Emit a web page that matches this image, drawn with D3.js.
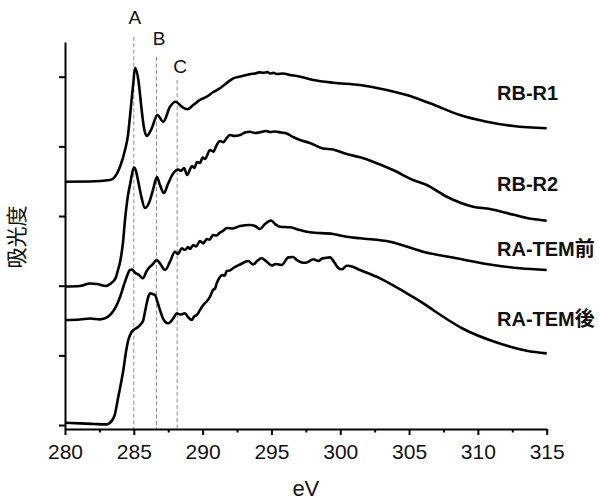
<!DOCTYPE html>
<html>
<head>
<meta charset="utf-8">
<script src="https://cdn.jsdelivr.net/npm/d3@7/dist/d3.min.js"></script>
<style>
  html, body { margin: 0; padding: 0; background: #fff; }
  svg { display: block; }
  .tick text { font-family: "Liberation Sans", Arial, sans-serif; }
</style>
</head>
<body>
<svg id="chart" width="599" height="502"></svg>
<script>
// C K-edge absorption spectra (offset vertically), photon energy in eV
const xTicks = [280, 285, 290, 295, 300, 305, 310, 315];
const xMinorTicks = [282.5, 287.5, 292.5, 297.5, 302.5, 307.5, 312.5];
const yTicks = [0, 1, 2, 3, 4, 5];

const seriesNames = ["RB-R1", "RB-R2", "RA-TEM前", "RA-TEM後"];

// peak markers
const markerNames = ["A", "B", "C"];
const markerEnergies = [285.0, 286.65, 288.15];

const rbR1 = [
  [280.0, 3.493], [281.82, 3.496], [283.27, 3.517], [283.63, 3.564], [284.0, 3.708],
  [284.36, 3.948], [284.58, 4.163], [284.72, 4.426], [284.96, 4.905], [285.09, 5.129],
  [285.33, 4.953], [285.57, 4.522], [285.74, 4.264], [285.94, 4.149], [286.3, 4.259],
  [286.71, 4.45], [287.14, 4.354], [287.63, 4.569], [288.04, 4.641], [288.48, 4.569],
  [288.89, 4.532], [289.32, 4.594], [289.81, 4.666], [290.3, 4.713], [290.78, 4.78],
  [291.26, 4.834], [291.75, 4.91], [292.23, 4.977], [292.72, 5.003], [293.2, 5.024],
  [293.5, 5.04], [293.81, 5.046], [294.1, 5.062], [294.41, 5.057], [294.7, 5.066],
  [294.9, 5.046], [295.15, 5.055], [295.38, 5.039], [295.84, 5.046], [296.35, 5.024],
  [296.84, 5.01], [298.04, 4.953], [299.5, 4.914], [301.44, 4.881], [303.38, 4.809],
  [304.83, 4.737], [306.52, 4.618], [308.7, 4.45], [310.64, 4.354], [312.58, 4.292],
  [315.0, 4.259]
];

const rbR2 = [
  [280.0, 1.988], [281.09, 1.995], [281.82, 2.031], [282.33, 2.024], [282.98, 1.995],
  [283.27, 2.024], [283.49, 2.06], [283.71, 2.125], [283.85, 2.225], [284.0, 2.34],
  [284.21, 2.613], [284.36, 2.943], [284.58, 3.302], [284.72, 3.445], [284.87, 3.603],
  [285.01, 3.697], [285.16, 3.646], [285.3, 3.517], [285.52, 3.302], [285.81, 3.115],
  [286.1, 3.187], [286.39, 3.373], [286.68, 3.56], [286.9, 3.445], [287.19, 3.33],
  [287.48, 3.46], [287.87, 3.613], [288.23, 3.668], [288.43, 3.646], [288.65, 3.689],
  [288.87, 3.589], [289.23, 3.718], [289.4, 3.69], [289.59, 3.775], [289.81, 3.761],
  [290.0, 3.84], [290.17, 3.82], [290.54, 3.948], [290.78, 3.923], [291.0, 4.01],
  [291.26, 4.077], [291.5, 4.06], [291.75, 4.12], [291.99, 4.163], [292.3, 4.15],
  [292.72, 4.163], [293.08, 4.199], [293.44, 4.21], [293.81, 4.192], [294.17, 4.202],
  [294.6, 4.22], [294.9, 4.206], [295.26, 4.213], [295.7, 4.199], [296.11, 4.185],
  [296.57, 4.134], [297.08, 4.091], [297.8, 4.048], [298.75, 3.969], [299.47, 3.955],
  [300.47, 3.89], [301.44, 3.843], [302.38, 3.78], [303.83, 3.661], [305.29, 3.517],
  [306.28, 3.445], [307.74, 3.277], [309.65, 3.134], [310.88, 3.101], [312.1, 3.043],
  [313.55, 2.972], [315.0, 2.933]
];

const raTemBefore = [
  [280.0, 1.507], [281.09, 1.514], [281.82, 1.529], [282.54, 1.517], [282.91, 1.532],
  [283.27, 1.579], [283.51, 1.637], [283.76, 1.723], [284.0, 1.837], [284.24, 1.985],
  [284.48, 2.125], [284.72, 2.225], [284.87, 2.232], [285.09, 2.186], [285.38, 2.153],
  [285.65, 2.106], [285.94, 2.211], [286.18, 2.272], [286.39, 2.311], [286.66, 2.369],
  [286.9, 2.321], [287.27, 2.225], [287.63, 2.344], [287.99, 2.488], [288.21, 2.455],
  [288.48, 2.537], [288.72, 2.512], [288.94, 2.555], [289.08, 2.527], [289.32, 2.584],
  [289.52, 2.562], [289.81, 2.641], [290.05, 2.608], [290.3, 2.67], [290.5, 2.66],
  [290.75, 2.728], [291.0, 2.72], [291.26, 2.763], [291.5, 2.79], [291.75, 2.828],
  [292.21, 2.821], [292.72, 2.857], [293.44, 2.871], [293.81, 2.857], [294.17, 2.814],
  [294.53, 2.885], [294.97, 2.936], [295.26, 2.885], [295.62, 2.847], [296.35, 2.838],
  [297.08, 2.799], [297.8, 2.766], [299.47, 2.742], [300.47, 2.703], [301.44, 2.68],
  [303.62, 2.631], [306.01, 2.488], [308.46, 2.393], [311.1, 2.297], [313.06, 2.25],
  [315.0, 2.225]
];

const raTemAfter = [
  [280.0, 0.033], [281.09, 0.024], [282.18, 0.014], [283.03, 0.01], [283.27, 0.033],
  [283.51, 0.096], [283.63, 0.158], [283.87, 0.402], [284.0, 0.531], [284.24, 0.79],
  [284.43, 1.048], [284.6, 1.22], [284.85, 1.339], [285.09, 1.378], [285.33, 1.411],
  [285.52, 1.45], [285.69, 1.507], [285.81, 1.622], [285.94, 1.747], [286.07, 1.852],
  [286.18, 1.891], [286.36, 1.881], [286.54, 1.866], [286.72, 1.766], [286.9, 1.651],
  [287.14, 1.522], [287.27, 1.483], [287.51, 1.46], [287.87, 1.532], [288.12, 1.604],
  [288.36, 1.586], [288.72, 1.604], [288.94, 1.55], [289.21, 1.507], [289.37, 1.557],
  [289.57, 1.579], [289.81, 1.651], [290.05, 1.723], [290.32, 1.78], [290.54, 1.842],
  [290.75, 1.938], [290.9, 1.96], [291.02, 2.034], [291.26, 2.125], [291.48, 2.153],
  [291.6, 2.14], [291.75, 2.211], [292.0, 2.22], [292.23, 2.254], [292.72, 2.304],
  [293.32, 2.354], [293.68, 2.304], [293.95, 2.354], [294.29, 2.393], [294.6, 2.354],
  [295.02, 2.29], [295.33, 2.311], [295.75, 2.297], [296.23, 2.407], [296.57, 2.412],
  [296.84, 2.369], [297.29, 2.33], [297.56, 2.333], [298.04, 2.379], [298.41, 2.354],
  [298.68, 2.39], [298.89, 2.397], [299.26, 2.407], [299.55, 2.34], [299.86, 2.254],
  [300.11, 2.235], [300.47, 2.287], [300.71, 2.283], [301.44, 2.225], [302.89, 2.106],
  [304.83, 1.891], [306.01, 1.751], [306.74, 1.651], [308.92, 1.382], [311.37, 1.184],
  [313.55, 1.067], [315.0, 1.029]
];

const seriesData = [rbR1, rbR2, raTemBefore, raTemAfter];

// label anchors (eV, absorbance) for the series names
const labelAnchors = [[311.39, 4.666], [311.39, 3.359], [311.39, 2.433], [311.39, 1.421]];

const svg = d3.select("#chart");
const margin = { left: 65, right: 52.3, top: 42, bottom: 73 };
const W = 599, H = 502;

const x = d3.scaleLinear().domain([280, 315]).range([margin.left, W - margin.right]);
const y = d3.scaleLinear().domain([-0.057, 5.498]).range([H - margin.bottom, margin.top]);

const FONT = '"Liberation Sans", Arial, "Noto Sans CJK JP", sans-serif';

// dashed guide lines at the peak positions, with letter tags above them
const markerTops = [36.7, 57, 80];
const markerTagBase = [24, 45, 72.5];
const markerTagShift = [1, 2.5, 3];

svg.append("g").selectAll("line")
  .data(markerEnergies)
  .join("line")
  .attr("x1", d => x(d)).attr("x2", d => x(d))
  .attr("y1", (d, i) => markerTops[i])
  .attr("y2", y(-0.057))
  .attr("stroke", "#8c8c8c")
  .attr("stroke-width", 1)
  .attr("stroke-dasharray", "4,2.5");

svg.append("g").selectAll("text")
  .data(markerNames)
  .join("text")
  .attr("x", (d, i) => x(markerEnergies[i]) + markerTagShift[i])
  .attr("y", (d, i) => markerTagBase[i])
  .attr("text-anchor", "middle")
  .attr("font-family", FONT)
  .attr("font-size", 19)
  .attr("fill", "#111")
  .text(d => d);

// spectra
const line = d3.line()
  .x(d => x(d[0]))
  .y(d => y(d[1]))
  .curve(d3.curveMonotoneX);

svg.append("g").selectAll("path")
  .data(seriesData)
  .join("path")
  .attr("d", line)
  .attr("fill", "none")
  .attr("stroke", "#000")
  .attr("stroke-width", 2.6)
  .attr("stroke-linejoin", "round");

// series labels
svg.append("g").selectAll("text")
  .data(seriesNames)
  .join("text")
  .attr("x", (d, i) => x(labelAnchors[i][0]))
  .attr("y", (d, i) => y(labelAnchors[i][1]))
  .attr("font-family", FONT)
  .attr("font-weight", "bold")
  .attr("font-size", 20)
  .attr("fill", "#111")
  .text(d => d);

// axes
const xAxis = svg.append("g")
  .attr("transform", `translate(0,${y(-0.057)})`)
  .call(d3.axisBottom(x).tickValues(xTicks).tickSize(6).tickSizeOuter(0).tickFormat(d3.format("d")));
xAxis.selectAll("text")
  .attr("y", 30).attr("dy", null)
  .attr("font-size", 21).attr("fill", "#111");

svg.append("g")
  .attr("transform", `translate(0,${y(-0.057)})`)
  .call(d3.axisBottom(x).tickValues(xMinorTicks).tickSize(3.5).tickSizeOuter(0).tickFormat(""))
  .call(g => g.select(".domain").remove());

svg.append("g")
  .attr("transform", `translate(${margin.left},0)`)
  .call(d3.axisLeft(y).tickValues(yTicks).tickSize(6).tickSizeOuter(0).tickFormat(""));

svg.selectAll(".domain").attr("stroke", "#000").attr("stroke-width", 2);
svg.selectAll(".tick line").attr("stroke", "#000").attr("stroke-width", 2);

// axis titles
svg.append("text")
  .attr("x", (x(280) + x(315)) / 2)
  .attr("y", 496)
  .attr("text-anchor", "middle")
  .attr("font-family", FONT)
  .attr("font-size", 22)
  .attr("fill", "#111")
  .text("eV");

svg.append("text")
  .attr("transform", `translate(24,237) rotate(-90)`)
  .attr("text-anchor", "middle")
  .attr("font-family", '"Noto Sans CJK JP", "Noto Sans CJK SC", sans-serif')
  .attr("font-size", 21)
  .attr("fill", "#111")
  .text("吸光度");
</script>
</body>
</html>
